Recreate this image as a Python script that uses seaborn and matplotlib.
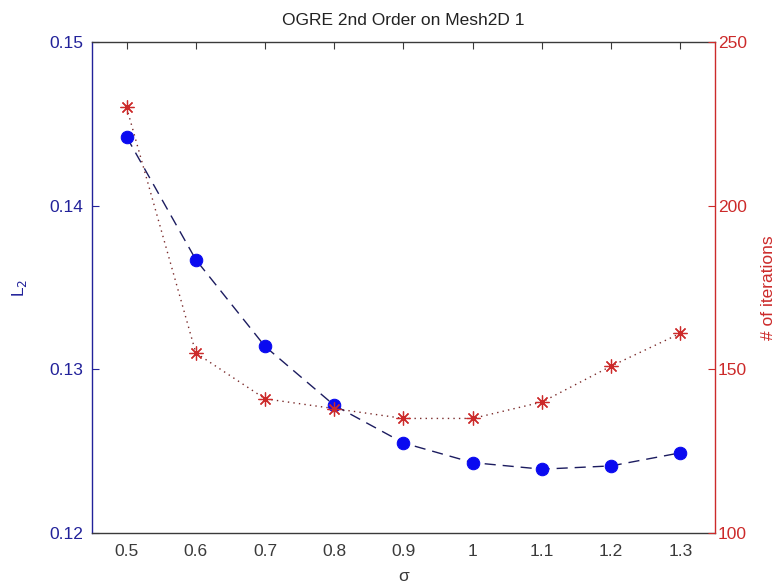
import matplotlib
matplotlib.use("Agg")
import matplotlib.pyplot as plt
import seaborn as sns
import pandas as pd

# Data: L2 error and iteration count against sigma
sigma = [0.5, 0.6, 0.7, 0.8, 0.9, 1.0, 1.1, 1.2, 1.3]
l2_error = [0.1442, 0.1367, 0.1314, 0.1278, 0.1255, 0.1243, 0.1239, 0.1241, 0.1249]
iterations = [230, 155, 141, 138, 135, 135, 140, 151, 161]

x_ticks = [0.5, 0.6, 0.7, 0.8, 0.9, 1.0, 1.1, 1.2, 1.3]
x_tick_labels = ["0.5", "0.6", "0.7", "0.8", "0.9", "1", "1.1", "1.2", "1.3"]
l2_ticks = [0.12, 0.13, 0.14, 0.15]
iter_ticks = [100, 150, 200, 250]

df = pd.DataFrame({"sigma": sigma, "L2": l2_error, "iters": iterations})

sns.set_style("white")
plt.rcParams["font.family"] = ["Liberation Sans", "DejaVu Sans"]

BLUE_TXT = "#22229a"
BLUE_MK = "#0a0af0"
RED = "#cc2a2a"
GRAY = "#3a3a3a"

fig = plt.figure(figsize=(7.75, 5.88), dpi=100)
ax = fig.add_axes([92 / 775, 1 - 533 / 588, (715 - 92) / 775, (533 - 42) / 588])
ax2 = ax.twinx()

sns.lineplot(data=df, x="sigma", y="L2", ax=ax, color="#1c1c60", linewidth=1.0,
             marker="o", markersize=9, markerfacecolor=BLUE_MK, markeredgecolor=BLUE_MK,
             linestyle=(0, (8, 5)))
sns.lineplot(data=df, x="sigma", y="iters", ax=ax2, color="#7a2a2a", linewidth=1.0,
             marker=(8, 2, 0), markersize=10, markeredgewidth=0.9,
             markerfacecolor=RED, markeredgecolor=RED,
             linestyle=(0, (1, 3)))

ax.set_xlim(0.45, 1.35)
ax.set_ylim(0.12, 0.15)
ax2.set_ylim(100, 250)

ax.set_xticks(x_ticks)
ax.set_xticklabels(x_tick_labels)
ax.set_yticks(l2_ticks)
ax.set_yticklabels([f"{v:.2f}" for v in l2_ticks])
ax2.set_yticks(iter_ticks)
ax2.set_yticklabels([str(v) for v in iter_ticks])

fs = 12.5
ax.tick_params(axis="x", direction="in", length=5, width=0.8, colors=GRAY,
               labelsize=fs, pad=8, top=True)
ax.tick_params(axis="y", direction="in", length=5, width=0.8, colors=BLUE_TXT,
               labelsize=fs, pad=6, right=False)
ax2.tick_params(axis="y", direction="in", length=5, width=0.8, colors=RED,
                labelsize=fs, pad=2)

for s in ("top", "bottom"):
    ax.spines[s].set_color(GRAY)
    ax.spines[s].set_linewidth(1.0)
    ax2.spines[s].set_visible(False)
ax.spines["left"].set_color(BLUE_TXT)
ax.spines["left"].set_linewidth(1.0)
ax.spines["right"].set_visible(False)
ax2.spines["left"].set_visible(False)
ax2.spines["right"].set_color(RED)
ax2.spines["right"].set_linewidth(1.0)

ax.set_xlabel("σ", fontsize=fs, color=GRAY, labelpad=7)
ax.set_ylabel("L$_2$", fontsize=fs, color=BLUE_TXT, labelpad=15)
ax2.set_ylabel("# of iterations", fontsize=fs, color=RED, labelpad=10)
ax.set_title("OGRE 2nd Order on Mesh2D 1", fontsize=fs, color="#222222", pad=12)

fig.savefig("out.png", dpi=100, facecolor="white")
